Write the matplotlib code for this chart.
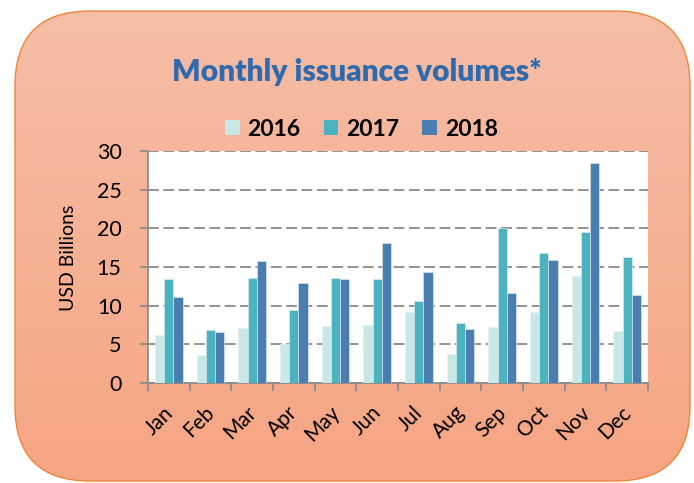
import numpy as np
import matplotlib
matplotlib.use("Agg")
import matplotlib.pyplot as plt
from matplotlib.patches import FancyBboxPatch, Patch
from matplotlib.ticker import FixedLocator
from matplotlib.transforms import ScaledTranslation

months = ["Jan", "Feb", "Mar", "Apr", "May", "Jun", "Jul", "Aug", "Sep", "Oct", "Nov", "Dec"]
years = ["2016", "2017", "2018"]
v2016 = [6.2, 3.6, 7.1, 5.1, 7.4, 7.5, 9.2, 3.7, 7.3, 9.2, 13.9, 6.7]
v2017 = [13.5, 6.85, 13.6, 9.4, 13.55, 13.4, 10.6, 7.75, 20.1, 16.8, 19.5, 16.3]
v2018 = [11.1, 6.6, 15.8, 12.9, 13.5, 18.1, 14.4, 7.0, 11.6, 15.85, 28.4, 11.35]
yticks = [0, 5, 10, 15, 20, 25, 30]

colors = ["#C8E8E5", "#4BB2BF", "#4A7EB0"]
W, H = 694, 483
fig = plt.figure(figsize=(W / 100, H / 100), dpi=100)
fig.patch.set_facecolor("white")

# background rounded box with gradient
bg = fig.add_axes([0, 0, 1, 1], zorder=0)
bg.set_xlim(0, W)
bg.set_ylim(H, 0)
bg.axis("off")
box = FancyBboxPatch((15, 11), 675, 470, boxstyle="round,pad=0,rounding_size=75",
                     facecolor="none", edgecolor="#EF8639", linewidth=1.0, zorder=3)
top = np.array([246, 190, 166]) / 255
bot = np.array([245, 165, 131]) / 255
t = np.linspace(0, 1, 256)[:, None]
grad = (top[None, :] * (1 - t) + bot[None, :] * t)[:, None, :]
im = bg.imshow(grad, extent=[15, 690, 481, 11], aspect="auto", zorder=1)
bg.add_patch(box)
im.set_clip_path(box)

ax = fig.add_axes([148 / W, 1 - 383 / H, 500 / W, 232 / H], zorder=2)
ax.set_facecolor("white")
x = np.arange(len(months))
bw = 0.22
for i, (vals, c) in enumerate(zip([v2016, v2017, v2018], colors)):
    ax.bar(x + (i - 1) * bw + 0.5, vals, bw, color=c, edgecolor="#E6EEF5",
           linewidth=0.4, zorder=3, label=years[i])

ax.set_xlim(0, len(months))
ax.set_ylim(0, 30)
ax.set_yticks(yticks)
ax.yaxis.grid(True, color="#8A8A8A", linestyle=(0, (6, 2.5)), linewidth=1.3, zorder=1)
ax.set_axisbelow(True)
for s in ["top", "right"]:
    ax.spines[s].set_visible(False)
for s in ["left", "bottom"]:
    ax.spines[s].set_color("#8C8C8C")
    ax.spines[s].set_linewidth(1.3)

ax.set_xticks(x + 0.5)
ax.set_xticklabels(months, rotation=45, ha="right", rotation_mode="anchor",
                   fontfamily="Lato", fontsize=15)
ax.xaxis.set_minor_locator(FixedLocator(np.arange(len(months) + 1)))
ax.tick_params(axis="x", which="major", length=0, pad=14)
ax.tick_params(axis="x", which="minor", length=6, width=1.3, color="#8C8C8C")
ax.tick_params(axis="y", length=6, width=1.3, color="#8C8C8C", pad=13, labelsize=15.5)
for lab in ax.get_yticklabels():
    lab.set_fontfamily("Lato")
for lab in ax.get_xticklabels():
    lab.set_transform(lab.get_transform() + ScaledTranslation(-0.06, 0, fig.dpi_scale_trans))

fig.text(69 / W, 1 - 258 / H, "USD Billions", rotation=90, ha="center", va="center",
         fontfamily="Lato", fontsize=14, color="black")

fig.text(357 / W, 1 - 81 / H, "Monthly issuance volumes*", ha="center", va="baseline",
         fontfamily="Lato", fontweight="heavy", fontsize=21.5, color="#2F6AAE")

handles = [Patch(facecolor=c, edgecolor="none") for c in colors]
leg = fig.legend(handles, years, loc="center", bbox_to_anchor=(361.5 / W, 1 - 129 / H),
                 ncol=3, frameon=False, handlelength=0.65, handleheight=0.65,
                 handletextpad=0.35, columnspacing=1.0,
                 prop={"family": "Lato", "weight": "bold", "size": 16.5})

fig.savefig("out.png", dpi=100, facecolor="white")
